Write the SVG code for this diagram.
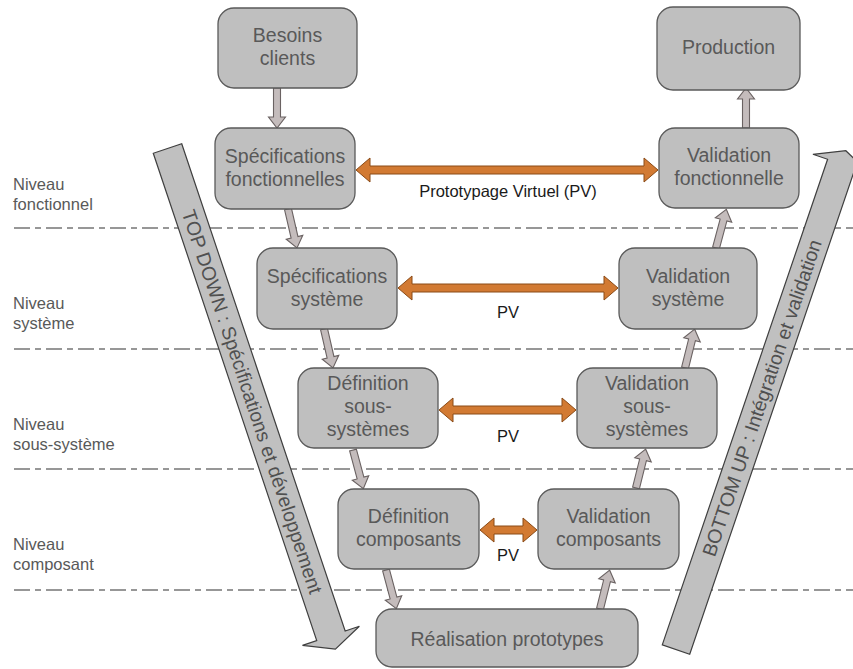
<svg xmlns="http://www.w3.org/2000/svg" xmlns:xlink="http://www.w3.org/1999/xlink" width="853" height="669" viewBox="0 0 853 669">
<style>
.box{fill:#bfbfbf;stroke:#5a5a5a;stroke-width:1.3}
.bt{font-family:"Liberation Sans",Arial,sans-serif;font-size:19.5px;fill:#595959;text-anchor:middle}
.lvl{font-family:"Liberation Sans",Arial,sans-serif;font-size:16.5px;fill:#595959}
.pv{font-family:"Liberation Sans",Arial,sans-serif;font-size:16.5px;fill:#1a1a1a;text-anchor:middle}
.dash{stroke:#767676;stroke-width:1.5;stroke-dasharray:16 5 6 5;fill:none}
.orange{fill:#d27a33;stroke:#8a4a16;stroke-width:1}
.ga{fill:#c4bcbc;stroke:#6a6262;stroke-width:1.1}
.big{fill:#c0c0c0;stroke:#3f3f3f;stroke-width:1.2}
.at{font-family:"Liberation Sans",Arial,sans-serif;font-size:19.5px;fill:#505050;text-anchor:middle}
</style>
<defs>
<path id="gar" d="M0,-3.5 L29,-3.5 L29,-8.5 L40,0 L29,8.5 L29,3.5 L0,3.5 Z"/>
</defs>
<rect width="853" height="669" fill="#ffffff"/>

<g id="levels">
<line class="dash" x1="14" y1="228" x2="853" y2="228"/>
<line class="dash" x1="14" y1="349" x2="853" y2="349"/>
<line class="dash" x1="14" y1="469" x2="853" y2="469"/>
<line class="dash" x1="14" y1="590" x2="853" y2="590"/>
<text class="lvl" x="13" y="190">Niveau</text>
<text class="lvl" x="13" y="210">fonctionnel</text>
<text class="lvl" x="13" y="309">Niveau</text>
<text class="lvl" x="13" y="329">système</text>
<text class="lvl" x="13" y="430">Niveau</text>
<text class="lvl" x="13" y="450">sous-système</text>
<text class="lvl" x="13" y="550">Niveau</text>
<text class="lvl" x="13" y="570">composant</text>
</g>

<g id="topdown" transform="translate(167.5,148.5) rotate(71.46)">
<path class="big" d="M0,-15 L514,-15 L514,-30 L528,0 L514,30 L514,15 L0,15 Z"/>
<text class="at" x="267" y="7">TOP DOWN : Spécifications et développement</text>
</g>

<g id="bottomup" transform="translate(676,649.6) rotate(-71.2)">
<path class="big" d="M0,-14.5 L513,-14.5 L513,-30 L527,0 L513,30 L513,14.5 L0,14.5 Z"/>
<text class="at" x="266" y="7">BOTTOM UP : Intégration et validation</text>
</g>

<g id="connectors">
<use xlink:href="#gar" class="ga" transform="translate(277,88) rotate(90)"/>
<use xlink:href="#gar" class="ga" transform="translate(288,209) rotate(77)"/>
<use xlink:href="#gar" class="ga" transform="translate(324,329) rotate(77)"/>
<use xlink:href="#gar" class="ga" transform="translate(353,450) rotate(75)"/>
<use xlink:href="#gar" class="ga" transform="translate(386,570) rotate(75)"/>
<use xlink:href="#gar" class="ga" transform="translate(600,609) rotate(-76)"/>
<use xlink:href="#gar" class="ga" transform="translate(636,488) rotate(-76)"/>
<use xlink:href="#gar" class="ga" transform="translate(685,368) rotate(-76)"/>
<use xlink:href="#gar" class="ga" transform="translate(716,248) rotate(-75)"/>
<use xlink:href="#gar" class="ga" transform="translate(746,128) rotate(-90)"/>
<path class="orange" d="M356,170 L370,158 L370,166 L644,166 L644,158 L658,170 L644,182 L644,174 L370,174 L370,182 Z"/>
<path class="orange" d="M398,288 L412,276 L412,284 L604,284 L604,276 L618,288 L604,300 L604,292 L412,292 L412,300 Z"/>
<path class="orange" d="M439,410 L453,398 L453,406 L562,406 L562,398 L576,410 L562,422 L562,414 L453,414 L453,422 Z"/>
<path class="orange" d="M480,530 L494,518 L494,526 L523,526 L523,518 L537,530 L523,542 L523,534 L494,534 L494,542 Z"/>
<text class="pv" x="508" y="197">Prototypage Virtuel (PV)</text>
<text class="pv" x="508" y="318">PV</text>
<text class="pv" x="508" y="442">PV</text>
<text class="pv" x="508" y="561">PV</text>
</g>

<g id="besoins">
<rect class="box" x="218" y="8" width="139" height="80" rx="16"/>
<text class="bt" x="287.5" y="42">Besoins</text>
<text class="bt" x="287.5" y="65">clients</text>
</g>
<g id="specf">
<rect class="box" x="215" y="128" width="140" height="81" rx="16"/>
<text class="bt" x="285" y="162.5">Spécifications</text>
<text class="bt" x="285" y="185.5">fonctionnelles</text>
</g>
<g id="production">
<rect class="box" x="657" y="7" width="143" height="83" rx="16"/>
<text class="bt" x="728.5" y="54">Production</text>
</g>
<g id="valf">
<rect class="box" x="659" y="128" width="140" height="80" rx="16"/>
<text class="bt" x="729" y="162">Validation</text>
<text class="bt" x="729" y="185">fonctionnelle</text>
</g>
<g id="specs">
<rect class="box" x="257" y="248" width="140" height="81" rx="16"/>
<text class="bt" x="327" y="282.5">Spécifications</text>
<text class="bt" x="327" y="305.5">système</text>
</g>
<g id="vals">
<rect class="box" x="619" y="248" width="138" height="81" rx="16"/>
<text class="bt" x="688" y="282.5">Validation</text>
<text class="bt" x="688" y="305.5">système</text>
</g>
<g id="defss">
<rect class="box" x="298" y="368" width="140" height="80" rx="16"/>
<text class="bt" x="368" y="390">Définition</text>
<text class="bt" x="368" y="413">sous-</text>
<text class="bt" x="368" y="436">systèmes</text>
</g>
<g id="valss">
<rect class="box" x="577" y="368" width="140" height="80" rx="16"/>
<text class="bt" x="647" y="390">Validation</text>
<text class="bt" x="647" y="413">sous-</text>
<text class="bt" x="647" y="436">systèmes</text>
</g>
<g id="defc">
<rect class="box" x="338" y="489" width="141" height="80" rx="16"/>
<text class="bt" x="408.5" y="523">Définition</text>
<text class="bt" x="408.5" y="546">composants</text>
</g>
<g id="valc">
<rect class="box" x="538" y="489" width="141" height="80" rx="16"/>
<text class="bt" x="608.5" y="523">Validation</text>
<text class="bt" x="608.5" y="546">composants</text>
</g>
<g id="realisation">
<rect class="box" x="376" y="609" width="262" height="58" rx="16"/>
<text class="bt" x="507" y="646">Réalisation prototypes</text>
</g>
</svg>
